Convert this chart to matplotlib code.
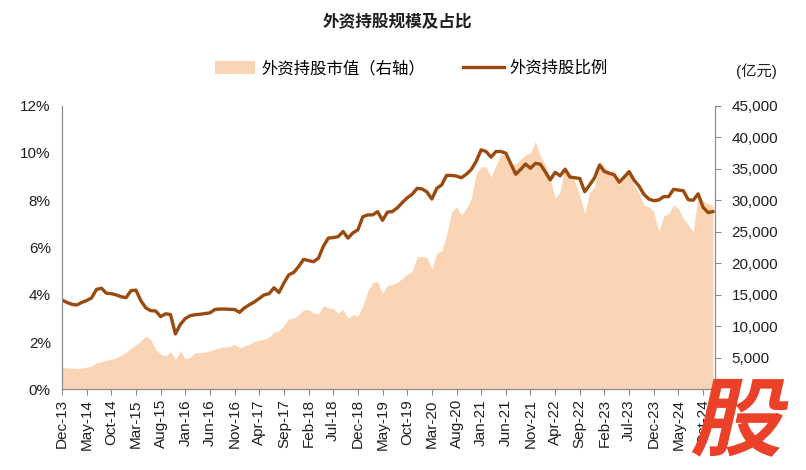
import numpy as np
import matplotlib
matplotlib.use('Agg')
import matplotlib.pyplot as plt
from matplotlib.patches import Patch, PathPatch
from matplotlib.lines import Line2D
from matplotlib.textpath import TextPath
from matplotlib.font_manager import FontProperties
from matplotlib.transforms import Affine2D
from matplotlib.ticker import FuncFormatter

plt.rcParams['font.family'] = ['Liberation Sans', 'Noto Sans CJK SC']

# monthly data, Dec-13 .. Dec-24
holding_ratio = [
    3.78, 3.68, 3.60, 3.57, 3.68, 3.76, 3.87, 4.23, 4.28, 4.07,
    4.05, 4.00, 3.92, 3.88, 4.18, 4.20, 3.75, 3.45, 3.33, 3.32,
    3.08, 3.20, 3.17, 2.35, 2.75, 3.00, 3.12, 3.16, 3.18, 3.21,
    3.24, 3.38, 3.40, 3.40, 3.39, 3.38, 3.26, 3.45, 3.58, 3.70,
    3.85, 4.00, 4.05, 4.30, 4.10, 4.50, 4.85, 4.95, 5.20, 5.50,
    5.45, 5.40, 5.55, 6.05, 6.40, 6.42, 6.46, 6.68, 6.40, 6.62,
    6.75, 7.30, 7.38, 7.38, 7.52, 7.15, 7.50, 7.52, 7.68, 7.90,
    8.10, 8.25, 8.50, 8.48, 8.35, 8.05, 8.50, 8.65, 9.05, 9.05,
    9.02, 8.95, 9.10, 9.30, 9.65, 10.13, 10.06, 9.82, 10.06, 10.06,
    9.99, 9.55, 9.10, 9.30, 9.53, 9.35, 9.56, 9.52, 9.20, 8.86,
    9.18, 9.03, 9.31, 8.98, 8.95, 8.92, 8.36, 8.65, 8.95, 9.49,
    9.21, 9.14, 9.07, 8.76, 8.98, 9.21, 8.85, 8.60, 8.25, 8.05,
    7.98, 8.01, 8.15, 8.15, 8.46, 8.43, 8.40, 8.02, 8.00, 8.27,
    7.70, 7.48, 7.52,
]

market_value = [
    3500, 3450, 3400, 3300, 3400, 3550, 3700, 4250, 4400, 4650,
    4800, 5000, 5450, 5900, 6500, 7100, 7700, 8450, 7900, 6300,
    5600, 5300, 6000, 4800, 6100, 4900, 5100, 5800, 5850, 5900,
    6150, 6400, 6650, 6750, 6800, 7200, 6550, 6900, 7200, 7600,
    7850, 7950, 8300, 9100, 9300, 10200, 11200, 11300, 11900, 12600,
    12700, 12100, 12000, 13250, 12900, 12850, 12100, 12700, 11300, 11900,
    11650, 13300, 15600, 16950, 17100, 15250, 16500, 16650, 17000, 17600,
    18300, 18700, 21050, 21050, 21000, 19050, 21600, 22000, 24500, 28200,
    28950, 27650, 28700, 30300, 34250, 35300, 35300, 33700, 35500, 37300,
    37200, 35600, 35800, 36500, 37200, 37450, 39300, 37000, 35700, 33400,
    30300, 31300, 35500, 34300, 33000, 30700, 27900, 31300, 32100, 36300,
    35300, 34600, 34700, 32400, 33500, 34500, 32400, 31100, 29250, 28950,
    28200, 25000, 27500, 27900, 29250, 28700, 27150, 26100, 25000, 30800,
    29900, 29400, 29250,
]

tick_labels = [
    'Dec-13', 'May-14', 'Oct-14', 'Mar-15', 'Aug-15', 'Jan-16', 'Jun-16',
    'Nov-16', 'Apr-17', 'Sep-17', 'Feb-18', 'Jul-18', 'Dec-18', 'May-19',
    'Oct-19', 'Mar-20', 'Aug-20', 'Jan-21', 'Jun-21', 'Nov-21', 'Apr-22',
    'Sep-22', 'Feb-23', 'Jul-23', 'Dec-23', 'May-24', 'Oct-24',
]

x = np.arange(len(holding_ratio))
fill_color = '#FAD5B5'
line_color = '#9B4A0F'
axis_color = '#8C8C8C'
text_color = '#1F1F1F'

fig = plt.figure(figsize=(8.06, 4.70), dpi=100)
ax = fig.add_axes([0.0769, 0.1713, 0.8101, 0.604])
ax2 = ax.twinx()

# area on the secondary axis, drawn below the line
ax2.fill_between(x, 0, market_value, color=fill_color, linewidth=0)
ax2.set_ylim(0, 45000)
ax2.set_yticks(np.arange(5000, 45001, 5000))
ax2.yaxis.set_major_formatter(FuncFormatter(lambda v, p: f'{int(v):,}'))

ax.plot(x, np.array(holding_ratio) / 100, color=line_color, linewidth=2.4,
        solid_joinstyle='round')
ax.set_ylim(0, 0.12)
ax.set_yticks(np.arange(0, 0.121, 0.02))
ax.yaxis.set_major_formatter(FuncFormatter(lambda v, p: f'{v * 100:.0f}%'))
ax.set_zorder(ax2.get_zorder() + 1)
ax.patch.set_visible(False)

ax.set_xlim(0, len(x) - 0.6)
ax.set_xticks(np.arange(0, len(x), 5))
ax.set_xticklabels(tick_labels, rotation=90)

for a in (ax, ax2):
    a.spines['top'].set_visible(False)
    a.spines['left'].set_color(axis_color)
    a.spines['right'].set_color(axis_color)
    a.spines['bottom'].set_color(axis_color)
    a.tick_params(colors=text_color, labelsize=11)

ax.tick_params(axis='y', length=0, pad=8)
ax.tick_params(axis='x', length=4, color=axis_color, pad=3)
ax2.tick_params(axis='y', length=4, color=axis_color, pad=8)

fig.text(0.493, 0.955, '外资持股规模及占比', ha='center', va='center',
         fontsize=12, fontweight='bold', color=text_color)
fig.text(0.938, 0.848, '(亿元)', ha='center', va='center', fontsize=11,
         color=text_color)

handles = [Patch(facecolor=fill_color, edgecolor='none'),
           Line2D([0], [0], color=line_color, linewidth=2.4)]
fig.legend(handles, ['外资持股市值（右轴）', '外资持股比例'], loc='center',
           bbox_to_anchor=(0.51, 0.855), ncol=2, frameon=False, fontsize=11.8,
           handlelength=2.5, handleheight=0.8, columnspacing=2.3,
           handletextpad=0.35)

# red watermark glyph in the lower right corner
fp = FontProperties(family='Noto Sans CJK SC', weight='bold')
tp = TextPath((0, 0), '股', size=1, prop=fp)
trans = Affine2D().skew_deg(12, 0).scale(92, 86).translate(690, 21)
fig.patches.append(PathPatch(trans.transform_path(tp), facecolor='#EC4129',
                             edgecolor='none', transform=None, figure=fig))

fig.savefig('out.png', dpi=100)
